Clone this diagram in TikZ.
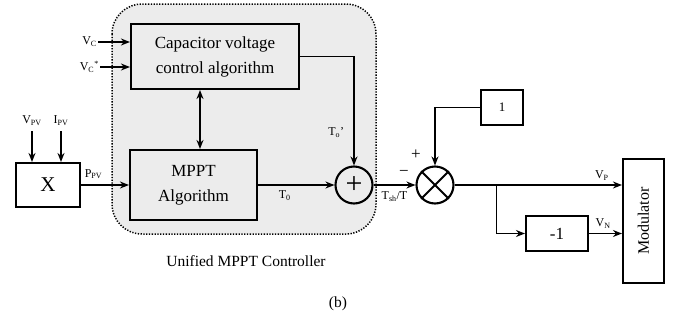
\documentclass[tikz,border=0pt]{standalone}
\usepackage{fontspec}
\setmainfont{Liberation Serif}
\usepackage{graphicx}
\usetikzlibrary{arrows.meta,positioning,calc,backgrounds}

\tikzset{
  blk/.style={draw, line width=2.1pt, inner sep=2pt, align=center,
              font=\fontsize{17}{25}\selectfont},
  sig/.style={font=\fontsize{12}{14}\selectfont, inner sep=1pt},
  junc/.style={draw, circle, line width=2.1pt, minimum size=37pt, inner sep=0pt},
  arr/.style={-{Stealth[length=9pt,width=7pt]}, line width=1.8pt},
  dbl/.style={{Stealth[length=9pt,width=7pt]}-{Stealth[length=9pt,width=7pt]}, line width=1.8pt},
  ln/.style={line width=1.8pt}
}

\begin{document}
\begin{tikzpicture}[x=1pt, y=-1pt]
\useasboundingbox (0,0) rectangle (678,322);

% controller blocks
\node[blk, minimum width=168pt, minimum height=65pt] (cap) at (215,56.5)
  {Capacitor voltage\\control algorithm};
\node[blk, minimum width=127pt, minimum height=70pt] (mppt) at (193.5,185)
  {MPPT\\Algorithm};
\node[blk, minimum width=64pt, minimum height=44pt,
      font=\fontsize{21}{24}\selectfont] (xm) at (48,185) {X};
\node[junc, font=\fontsize{30}{30}\selectfont] (sum) at (354,185) {+};
\node[junc] (mul) at (435,185) {};
\node[blk, minimum width=42pt, minimum height=35pt,
      font=\fontsize{13}{14}\selectfont] (one) at (502,107.5) {1};
\node[blk, minimum width=62pt, minimum height=35pt] (neg) at (557,233.5) {-1};
\node[blk, minimum width=41pt, minimum height=124pt,
      font=\fontsize{16}{18}\selectfont] (mod) at (643.5,221)
  {\rotatebox{90}{Modulator}};

% dotted controller region
\begin{scope}[on background layer]
\draw[line width=1.5pt, dash pattern=on 1.3pt off 1.5pt, fill=gray!15,
      rounded corners=30pt] (112,4) rectangle (376,234);
\end{scope}

% inputs
\node[sig] (vpv) at (32,121) {V\textsubscript{PV}};
\node[sig] (ipv) at (61,121) {I\textsubscript{PV}};
\draw[arr, shorten <=4pt] (vpv.south) -- (vpv.south |- xm.north);
\draw[arr, shorten <=4pt] (ipv.south) -- (ipv.south |- xm.north);
\node[sig, anchor=east] (vc) at (98,42) {V\textsubscript{C}};
\node[sig, anchor=east] (vcs) at (100,67) {V\textsubscript{C}\textsuperscript{*}};
\draw[arr] (vc.east) -- (vc.east -| cap.west);
\draw[arr] (vcs.east) -- (vcs.east -| cap.west);

% signal flow
\draw[arr] (xm) -- node[sig, above=4pt, pos=0.26] {P\textsubscript{PV}} (mppt);
\coordinate (bi) at ([xshift=6.5pt]mppt.north);
\draw[dbl] (bi) -- (bi |- cap.south);
\draw[arr] (mppt) -- node[sig, below=4pt, pos=0.35] {T\textsubscript{0}} (sum);
\draw[arr] (cap.east) -| node[sig, pos=0.85, left=8pt] {T\textsubscript{o}’} (sum.north);
\draw[arr] (sum) -- node[sig, below=5pt] {T\textsubscript{sh}/T} (mul);
\draw[ln] (mul.north west) -- (mul.south east) (mul.north east) -- (mul.south west);
\node[font=\fontsize{17}{17}\selectfont] (plus) at (416,155) {+};
\node[font=\fontsize{17}{17}\selectfont] (minus) at (404,173) {−};
\draw[arr] (one.west) -| (mul.north);

% outputs to modulator
\coordinate (br) at ([xshift=42pt]mul.east);
\draw[arr] (mul.east) -- node[sig, above=3pt, pos=0.88] {V\textsubscript{P}} (mul.east -| mod.west);
\draw[arr] (br) |- (neg.west);
\draw[arr] (neg.east) -- node[sig, above=3pt, pos=0.43] {V\textsubscript{N}} (neg.east -| mod.west);

% captions
\node[font=\fontsize{15.5}{18}\selectfont] (ctl) at (246,261) {Unified MPPT Controller};
\node[font=\fontsize{15.5}{18}\selectfont] (fig) at (338,304) {(b)};
\end{tikzpicture}
\end{document}
